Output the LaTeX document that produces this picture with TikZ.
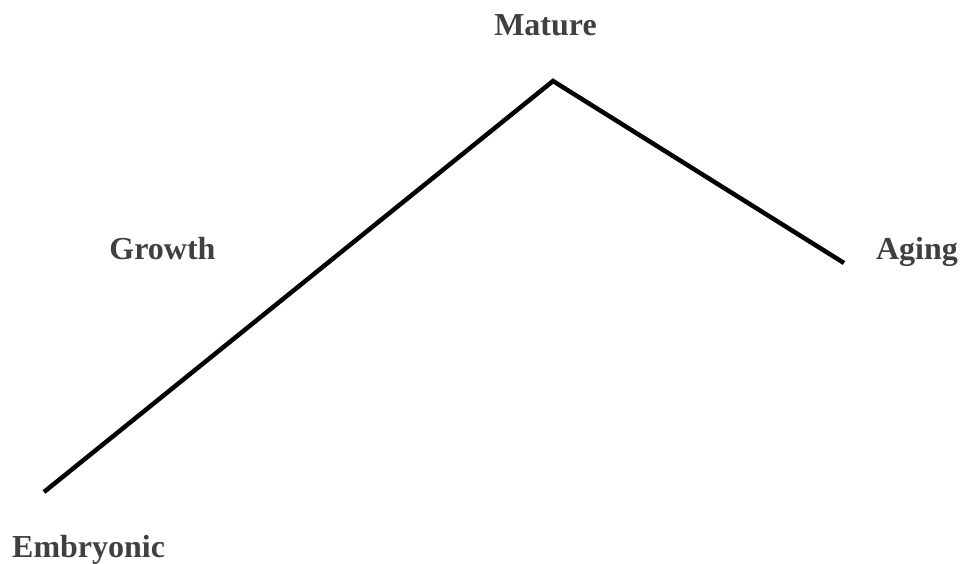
\documentclass[tikz,border=0pt]{standalone}
\usepackage{fontspec}
\setmainfont{Liberation Serif}
\usepackage{tikz}
\usetikzlibrary{positioning}
\definecolor{labelgray}{HTML}{404040}

\begin{document}
\begin{tikzpicture}[
    x=1pt, y=-1pt,
    stage/.style={
        text=labelgray, inner sep=0pt, anchor=base,
        font=\fontsize{32}{38}\selectfont\bfseries,
    },
    curve/.style={line width=4.5pt, draw=black, line join=miter},
]
\useasboundingbox (0,0) rectangle (961,563);

\coordinate (start) at (44,492);
\coordinate (peak) at (553,81);
\coordinate (finish) at (844,263);

\node[stage] (mature) at (545.5,35) {Mature};
\node[stage] (growth) at (162.5,259) {Growth};
\node[stage] (aging) at (917,259) {Aging};
\node[stage, anchor=base west] (embryonic) at (12,557) {Embryonic};

\draw[curve] (start) -- (peak) -- (finish);

\end{tikzpicture}
\end{document}
